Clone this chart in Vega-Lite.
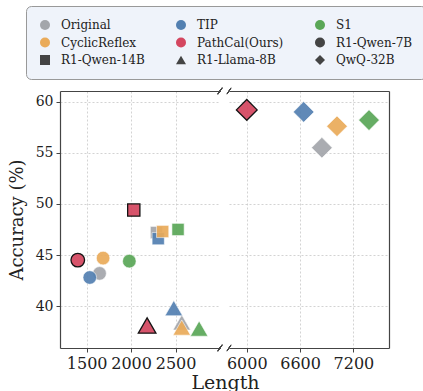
{
  "$schema": "https://vega.github.io/schema/vega-lite/v6.json",
  "padding": {"left": 8, "top": 5, "right": 2, "bottom": 0},
  "background": "white",
  "bounds": "flush",
  "config": {
    "font": "DejaVu Serif",
    "view": {"stroke": null},
    "axis": {
      "labelFont": "DejaVu Serif", "titleFont": "DejaVu Serif",
      "labelColor": "#222", "titleColor": "#222",
      "domainColor": "#444", "domainWidth": 1.2,
      "tickColor": "#444", "tickSize": 4, "tickWidth": 1,
      "gridColor": "#c8c8c8", "gridDash": [2, 2], "gridWidth": 0.8,
      "titleFontWeight": "normal", "labelOverlap": false
    },
    "legend": {
      "orient": "none", "legendX": -34, "legendY": -85,
      "columns": 3, "direction": "horizontal",
      "fillColor": "#eff3fa", "strokeColor": "#999999", "cornerRadius": 5,
      "padding": 13, "columnPadding": 30, "rowPadding": 5.5,
      "labelFont": "DejaVu Serif", "labelFontSize": 12, "labelColor": "#222",
      "labelOffset": 10, "symbolSize": 100, "symbolOpacity": 1, "symbolStrokeWidth": 0
    }
  },
  "datasets": {
    "pts": [
      {"method": "Original", "model": "R1-Qwen-7B", "length": 1645, "acc": 43.2},
      {"method": "TIP", "model": "R1-Qwen-7B", "length": 1535, "acc": 42.8},
      {"method": "CyclicReflex", "model": "R1-Qwen-7B", "length": 1685, "acc": 44.7},
      {"method": "S1", "model": "R1-Qwen-7B", "length": 1980, "acc": 44.4},
      {"method": "PathCal(Ours)", "model": "R1-Qwen-7B", "length": 1400, "acc": 44.5},
      {"method": "Original", "model": "R1-Qwen-14B", "length": 2285, "acc": 47.2},
      {"method": "TIP", "model": "R1-Qwen-14B", "length": 2305, "acc": 46.6},
      {"method": "CyclicReflex", "model": "R1-Qwen-14B", "length": 2355, "acc": 47.3},
      {"method": "S1", "model": "R1-Qwen-14B", "length": 2528, "acc": 47.5},
      {"method": "PathCal(Ours)", "model": "R1-Qwen-14B", "length": 2030, "acc": 49.4},
      {"method": "Original", "model": "R1-Llama-8B", "length": 2570, "acc": 38.4},
      {"method": "TIP", "model": "R1-Llama-8B", "length": 2480, "acc": 39.8},
      {"method": "CyclicReflex", "model": "R1-Llama-8B", "length": 2570, "acc": 37.9},
      {"method": "S1", "model": "R1-Llama-8B", "length": 2765, "acc": 37.8},
      {"method": "PathCal(Ours)", "model": "R1-Llama-8B", "length": 2180, "acc": 38.1},
      {"method": "Original", "model": "QwQ-32B", "length": 6845, "acc": 55.5},
      {"method": "TIP", "model": "QwQ-32B", "length": 6640, "acc": 59.0},
      {"method": "CyclicReflex", "model": "QwQ-32B", "length": 7015, "acc": 57.6},
      {"method": "S1", "model": "QwQ-32B", "length": 7375, "acc": 58.2},
      {"method": "PathCal(Ours)", "model": "QwQ-32B", "length": 6000, "acc": 59.2}
    ]
  },
  "spacing": 9,
  "hconcat": [
    {
      "width": 160, "height": 257,
      "data": {"name": "pts"},
      "transform": [{"filter": "datum.model !== 'QwQ-32B'"}],
      "layer": [
        {
          "mark": {"type": "point", "filled": true, "opacity": 0.92},
          "encoding": {
            "x": {"field": "length", "type": "quantitative",
              "scale": {"domain": [1200, 3000], "nice": false, "zero": false},
              "axis": {"values": [1500, 2000, 2500], "format": "d", "title": "Length", "titleX": 165, "titleAlign": "center",
                "titleFontSize": 19, "titlePadding": 2, "labelFontSize": 16, "labelPadding": 3, "grid": true}},
            "y": {"field": "acc", "type": "quantitative",
              "scale": {"domain": [35.9, 61.05], "nice": false, "zero": false},
              "axis": {"values": [40, 45, 50, 55, 60], "title": "Accuracy (%)", "titleFontSize": 18,
                "titlePadding": 9, "labelFontSize": 14, "labelPadding": 3, "grid": true}},
            "color": {"field": "method", "type": "nominal", "title": null,
              "scale": {
                "domain": ["Original", "TIP", "S1", "CyclicReflex", "PathCal(Ours)", "R1-Qwen-7B", "R1-Qwen-14B", "R1-Llama-8B", "QwQ-32B"],
                "range": ["#a3a6ab", "#5380b1", "#5aa757", "#eaab5a", "#d4465f", "#444444", "#444444", "#444444", "#444444"]},
              "legend": {"encode": {"symbols": {"update": {
                "stroke": {"signal": "datum.label === 'PathCal(Ours)' ? '#000000' : 'transparent'"},
                "strokeWidth": {"value": 1.3},
                "size": {"signal": "datum.label === 'QwQ-32B' ? 220 : (datum.label === 'PathCal(Ours)' ? 125 : (datum.label === 'R1-Llama-8B' ? 120 : 100))"}}}}}},
            "shape": {"field": "model", "type": "nominal", "title": null,
              "scale": {
                "domain": ["Original", "TIP", "S1", "CyclicReflex", "PathCal(Ours)", "R1-Qwen-7B", "R1-Qwen-14B", "R1-Llama-8B", "QwQ-32B"],
                "range": ["circle", "circle", "circle", "circle", "circle", "circle", "square", "triangle-up", "diamond"]}},
            "size": {"condition": [
                {"test": "datum.model === 'R1-Qwen-14B'", "value": 150},
                {"test": "datum.model === 'R1-Llama-8B'", "value": 310}
              ], "value": 185},
            "stroke": {"condition": {"test": "datum.method === 'PathCal(Ours)'", "value": "#000000"}, "value": "#ffffff"},
            "strokeWidth": {"condition": {"test": "datum.method === 'PathCal(Ours)'", "value": 1.3}, "value": 0.6}
          }
        },
        {
          "mark": {"type": "point", "opacity": 0},
          "encoding": {
            "x": {"field": "length", "type": "quantitative",
              "scale": {"domain": [1200, 3000], "nice": false, "zero": false},
              "axis": {"orient": "top", "labels": false, "ticks": false, "grid": false, "title": null, "domain": true}}
          }
        },
        {
          "mark": {"type": "rule", "color": "#444", "strokeWidth": 1},
          "encoding": {
            "x": {"datum": 2978, "type": "quantitative", "axis": null},
            "x2": {"datum": 3022},
            "y": {"datum": 60.75, "type": "quantitative", "axis": null},
            "y2": {"datum": 61.35}
          }
        },
        {
          "mark": {"type": "rule", "color": "#444", "strokeWidth": 1},
          "encoding": {
            "x": {"datum": 2978, "type": "quantitative", "axis": null},
            "x2": {"datum": 3022},
            "y": {"datum": 35.6, "type": "quantitative", "axis": null},
            "y2": {"datum": 36.2}
          }
        }
      ],
      "resolve": {"axis": {"x": "independent", "y": "independent"}}
    },
    {
      "width": 160, "height": 257,
      "data": {"name": "pts"},
      "transform": [{"filter": "datum.model === 'QwQ-32B'"}],
      "layer": [
        {
          "mark": {"type": "point", "filled": true, "opacity": 0.92, "size": 430},
          "encoding": {
            "x": {"field": "length", "type": "quantitative",
              "scale": {"domain": [5800, 7600], "nice": false, "zero": false},
              "axis": {"values": [6000, 6600, 7200], "format": "d", "title": null, "labelFontSize": 16, "labelPadding": 3, "grid": true}},
            "y": {"field": "acc", "type": "quantitative",
              "scale": {"domain": [35.9, 61.05], "nice": false, "zero": false},
              "axis": {"values": [40, 45, 50, 55, 60], "title": null, "labels": false, "ticks": false, "domain": false, "grid": true}},
            "color": {"field": "method", "type": "nominal", "title": null},
            "shape": {"field": "model", "type": "nominal", "title": null},
            "stroke": {"condition": {"test": "datum.method === 'PathCal(Ours)'", "value": "#000000"}, "value": "#ffffff"},
            "strokeWidth": {"condition": {"test": "datum.method === 'PathCal(Ours)'", "value": 1.3}, "value": 0.6}
          }
        },
        {
          "mark": {"type": "point", "opacity": 0},
          "encoding": {
            "x": {"field": "length", "type": "quantitative",
              "scale": {"domain": [5800, 7600], "nice": false, "zero": false},
              "axis": {"orient": "top", "labels": false, "ticks": false, "grid": false, "title": null, "domain": true}},
            "y": {"field": "acc", "type": "quantitative",
              "scale": {"domain": [35.9, 61.05], "nice": false, "zero": false},
              "axis": {"orient": "right", "labels": false, "ticks": false, "grid": false, "title": null, "domain": true}}
          }
        },
        {
          "mark": {"type": "rule", "color": "#444", "strokeWidth": 1},
          "encoding": {
            "x": {"datum": 5778, "type": "quantitative", "axis": null},
            "x2": {"datum": 5822},
            "y": {"datum": 60.75, "type": "quantitative", "axis": null},
            "y2": {"datum": 61.35}
          }
        },
        {
          "mark": {"type": "rule", "color": "#444", "strokeWidth": 1},
          "encoding": {
            "x": {"datum": 5778, "type": "quantitative", "axis": null},
            "x2": {"datum": 5822},
            "y": {"datum": 35.6, "type": "quantitative", "axis": null},
            "y2": {"datum": 36.2}
          }
        }
      ],
      "resolve": {"axis": {"x": "independent", "y": "independent"}}
    }
  ]
}
